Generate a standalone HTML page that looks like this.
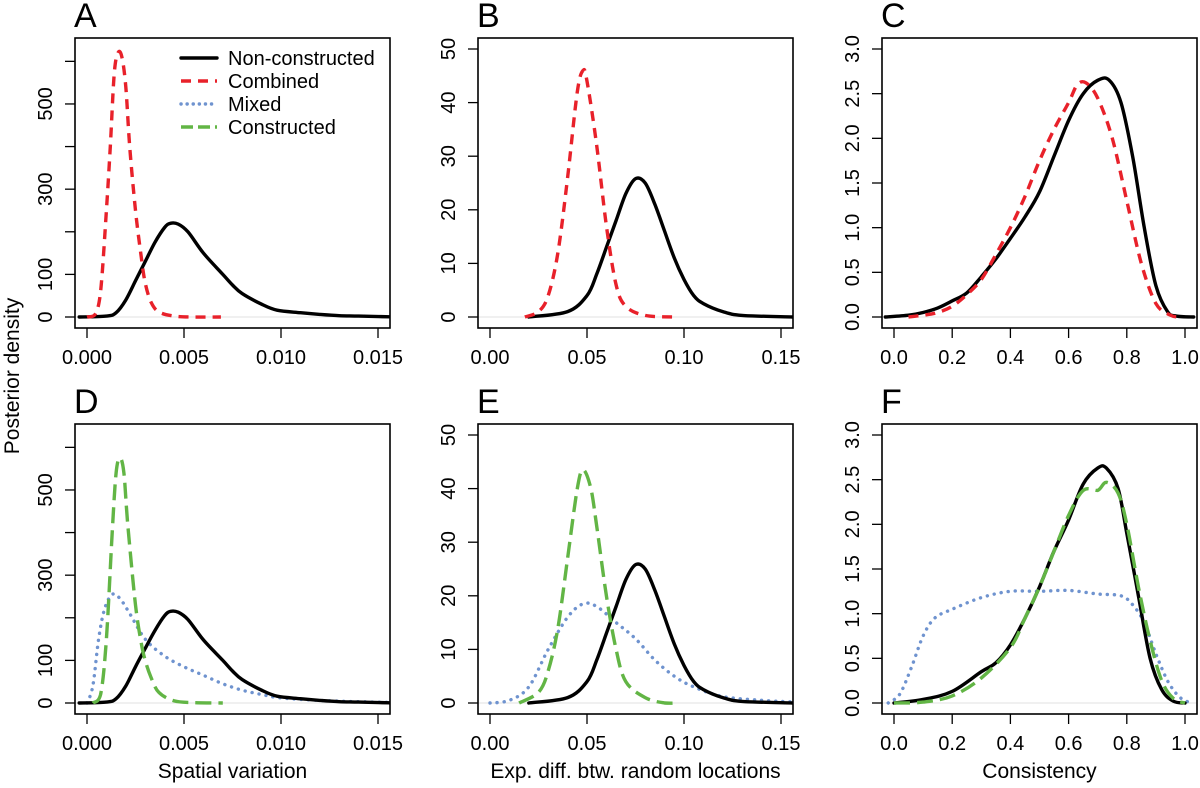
<!DOCTYPE html>
<html><head><meta charset="utf-8"><style>
body{margin:0;background:#fff;}
svg{display:block;font-family:"Liberation Sans",Arial,sans-serif;}
</style></head><body>
<svg id="s" width="1200" height="788" viewBox="0 0 1200 788">
<text x="19" y="376" font-size="21" text-anchor="middle" transform="rotate(-90 19 376)">Posterior density</text>
</svg>
<script>
// ---- data ----
const spatialBlack=[[-0.0004,0],[0.001,2],[0.0015,10],[0.002,40],[0.0025,85],[0.003,130],[0.0035,175],[0.004,210],[0.0043,220],[0.0047,218],[0.0052,200],[0.006,150],[0.007,100],[0.0075,75],[0.008,55],[0.009,30],[0.0098,16],[0.011,10],[0.012,6],[0.013,3],[0.014,2],[0.0162,0]];
const spatialRed=[[0,0],[0.0004,5],[0.0007,60],[0.001,250],[0.0012,400],[0.0014,570],[0.0016,620],[0.0018,610],[0.002,540],[0.0022,400],[0.0025,250],[0.0028,140],[0.003,80],[0.0033,35],[0.0037,12],[0.0045,2],[0.0055,0],[0.0069,0]];
const spatialBlack2=[[-0.0004,0],[0.001,2],[0.0015,10],[0.002,40],[0.0025,85],[0.003,128],[0.0035,170],[0.004,205],[0.0043,215],[0.0047,213],[0.0052,196],[0.006,148],[0.007,100],[0.0075,75],[0.008,55],[0.009,30],[0.0098,16],[0.011,10],[0.012,6],[0.013,3],[0.014,2],[0.0162,0]];
const spatialGreen=[[0.0003,0],[0.0007,20],[0.001,150],[0.0013,400],[0.0015,540],[0.0017,575],[0.0019,540],[0.0021,420],[0.0025,230],[0.0028,140],[0.003,100],[0.0033,60],[0.0037,25],[0.0045,5],[0.0055,1],[0.007,0]];
const spatialBlue=[[0,0],[0.0003,40],[0.0006,150],[0.0009,220],[0.0013,255],[0.0017,245],[0.0022,210],[0.003,150],[0.004,110],[0.005,85],[0.006,65],[0.007,45],[0.008,30],[0.009,20],[0.010,12],[0.012,6],[0.014,3],[0.0162,1]];
const expBlack=[[0.02,0],[0.04,1],[0.05,4],[0.055,8],[0.06,13],[0.065,18],[0.07,23],[0.075,25.8],[0.08,25],[0.085,21],[0.09,16],[0.095,11],[0.1,7],[0.105,4],[0.11,2.5],[0.12,1],[0.13,0.3],[0.156,0]];
const expRed=[[0.018,0],[0.025,1],[0.03,4],[0.035,12],[0.04,26],[0.045,42],[0.048,46],[0.05,44],[0.055,32],[0.06,17],[0.065,6],[0.07,2],[0.08,0.3],[0.095,0]];
const expGreen=[[0.015,0],[0.025,2],[0.03,6],[0.035,14],[0.04,27],[0.045,40],[0.048,43.5],[0.052,40],[0.055,33],[0.06,20],[0.065,10],[0.07,4],[0.08,1],[0.09,0],[0.097,0]];
const expBlue=[[0,0],[0.01,0.5],[0.02,3],[0.03,10],[0.04,16],[0.048,18.5],[0.055,18],[0.065,15],[0.075,12],[0.085,8],[0.095,5],[0.105,3],[0.12,1.2],[0.14,0.5],[0.156,0.2]];
const conBlack=[[-0.03,0],[0.05,0.02],[0.1,0.05],[0.15,0.1],[0.2,0.18],[0.25,0.27],[0.3,0.45],[0.35,0.65],[0.4,0.88],[0.45,1.12],[0.5,1.4],[0.55,1.8],[0.6,2.2],[0.65,2.5],[0.7,2.65],[0.74,2.65],[0.78,2.4],[0.82,1.8],[0.86,1.0],[0.9,0.35],[0.94,0.06],[0.97,0.01],[1.03,0]];
const conRed=[[0.05,0],[0.1,0.02],[0.15,0.05],[0.2,0.12],[0.25,0.25],[0.3,0.42],[0.35,0.7],[0.4,1.0],[0.45,1.35],[0.5,1.75],[0.55,2.1],[0.6,2.4],[0.63,2.6],[0.66,2.62],[0.7,2.45],[0.75,2.0],[0.8,1.3],[0.85,0.6],[0.9,0.15],[0.95,0.02],[0.98,0]];
const conBlack2=[[0,0],[0.1,0.04],[0.2,0.13],[0.3,0.35],[0.35,0.45],[0.4,0.65],[0.45,0.95],[0.5,1.3],[0.55,1.7],[0.6,2.05],[0.65,2.45],[0.7,2.63],[0.73,2.63],[0.77,2.4],[0.8,1.9],[0.84,1.2],[0.88,0.5],[0.92,0.15],[0.96,0.02],[1.0,0]];
const conGreen=[[0,0],[0.1,0.01],[0.2,0.08],[0.3,0.28],[0.4,0.62],[0.45,0.95],[0.5,1.3],[0.55,1.7],[0.6,2.1],[0.65,2.38],[0.7,2.38],[0.73,2.47],[0.77,2.35],[0.8,2.0],[0.84,1.3],[0.88,0.7],[0.92,0.25],[0.96,0.05],[1.0,0]];
const conBlue=[[-0.02,0],[0.02,0.1],[0.06,0.4],[0.1,0.75],[0.14,0.95],[0.2,1.05],[0.3,1.18],[0.4,1.25],[0.5,1.25],[0.6,1.26],[0.7,1.22],[0.78,1.2],[0.82,1.1],[0.86,0.9],[0.9,0.55],[0.94,0.25],[0.98,0.07],[1.02,0]];
const spatialXTicks=[0,0.005,0.010,0.015];
const spatialXLabels=["0.000","0.005","0.010","0.015"];
const spatialYTicks=[0,100,200,300,400,500,600];
const spatialYLabels=["0","100","","300","","500",""];
const expXTicks=[0,0.05,0.10,0.15];
const expXLabels=["0.00","0.05","0.10","0.15"];
const expYTicks=[0,10,20,30,40,50];
const expYLabels=["0","10","20","30","40","50"];
const conXTicks=[0,0.2,0.4,0.6,0.8,1.0];
const conXLabels=["0.0","0.2","0.4","0.6","0.8","1.0"];
const conYTicks=[0,0.5,1,1.5,2,2.5,3];
const conYLabels=["0.0","0.5","1.0","1.5","2.0","2.5","3.0"];
const legendLabels=["Non-constructed","Combined","Mixed","Constructed"];

const NS="http://www.w3.org/2000/svg";
const svg=document.getElementById('s');
function mk(tag,attrs,parent){const e=document.createElementNS(NS,tag);for(const k in attrs)e.setAttribute(k,attrs[k]);(parent||svg).appendChild(e);return e;}
const STY={
 black:{stroke:"#000",dash:"",cap:"round"},
 red:{stroke:"#e8212a",dash:"10 7",cap:"butt"},
 blue:{stroke:"#6f93cf",dash:"0.1 7",cap:"round"},
 green:{stroke:"#62b545",dash:"16 7",cap:"butt"}
};
function smooth(pts){
 let d='M'+pts[0][0].toFixed(1)+' '+pts[0][1].toFixed(1);
 for(let i=0;i<pts.length-1;i++){
  const p0=pts[i-1]||pts[i],p1=pts[i],p2=pts[i+1],p3=pts[i+2]||p2;
  let c1y=p1[1]+(p2[1]-p0[1])/6,c2y=p2[1]-(p3[1]-p1[1])/6;
  const base=Math.max(p1[1],p2[1]);
  c1y=Math.min(c1y,base+0.5);c2y=Math.min(c2y,base+0.5);
  d+=` C${(p1[0]+(p2[0]-p0[0])/6).toFixed(1)} ${c1y.toFixed(1)} ${(p2[0]-(p3[0]-p1[0])/6).toFixed(1)} ${c2y.toFixed(1)} ${p2[0].toFixed(1)} ${p2[1].toFixed(1)}`;
 }
 return d;
}
const W=315,H=290;
function panel(letter,bx,by,xmax,ymax,xt,xl,yt,yl,series,xtitle){
 const g=mk('g',{});
 
 
 const x0=bx+12,x1=bx+303;
 const sx=v=>x0+(x1-x0)*v/xmax;
 const sy=v=>by+279-(279-11)*v/ymax;
 const lt=mk('text',{x:bx-1,y:by-11,"font-size":34},g);lt.textContent=letter;
 
 
 const zl=mk('line',{x1:bx,x2:bx+W,y1:sy(0),y2:sy(0),stroke:"#d8d8d8","stroke-width":0.8},g);
 
 
 const clipId='c'+letter;
 const cp=mk('clipPath',{id:clipId},g);mk('rect',{x:bx,y:by,width:W,height:H},cp);
 series.forEach(([data,sty,nm])=>{
  const st=STY[sty];
  const d=smooth(data.map(p=>[sx(p[0]),sy(p[1])]));
  const p=mk('path',{d:d,fill:"none",stroke:st.stroke,"stroke-width":3.4,"stroke-dasharray":st.dash,"stroke-linecap":st.cap,"stroke-linejoin":"round","clip-path":`url(#${clipId})`},g);
  
  
 });
 const fr=mk('rect',{x:bx,y:by,width:W,height:H,fill:"none",stroke:"#000","stroke-width":1.6},g);
 
 
 xt.forEach((v,i)=>{
  mk('line',{x1:sx(v),x2:sx(v),y1:by+H,y2:by+H+10,stroke:"#000","stroke-width":1.3},g);
  const t=mk('text',{x:sx(v),y:by+H+36,"font-size":20,"text-anchor":"middle"},g);t.textContent=xl[i];
  
  
 });
 yt.forEach((v,i)=>{
  mk('line',{x1:bx,x2:bx-10,y1:sy(v),y2:sy(v),stroke:"#000","stroke-width":1.3},g);
  if(yl[i]){const tx=bx-23,ty=sy(v);const t=mk('text',{x:tx,y:ty,"font-size":20,"text-anchor":"middle",transform:`rotate(-90 ${tx} ${ty})`},g);t.textContent=yl[i];
  
  }
 });
 if(xtitle){const t=mk('text',{x:bx+W/2,y:by+H+64,"font-size":21,"text-anchor":"middle"},g);t.textContent=xtitle;
  
  }
 return g;
}
const cols=[75,478,882],rows=[38,424];
panel('A',cols[0],rows[0],0.015,629,spatialXTicks,spatialXLabels,spatialYTicks,spatialYLabels,[[spatialBlack,'black','non-constructed'],[spatialRed,'red','combined']]);
panel('B',cols[1],rows[0],0.15,50,expXTicks,expXLabels,expYTicks,expYLabels,[[expBlack,'black','non-constructed'],[expRed,'red','combined']]);
panel('C',cols[2],rows[0],1,3,conXTicks,conXLabels,conYTicks,conYLabels,[[conBlack,'black','non-constructed'],[conRed,'red','combined']]);
panel('D',cols[0],rows[1],0.015,629,spatialXTicks,spatialXLabels,spatialYTicks,spatialYLabels,[[spatialBlue,'blue','mixed'],[spatialBlack2,'black','non-constructed'],[spatialGreen,'green','constructed']],'Spatial variation');
panel('E',cols[1],rows[1],0.15,50,expXTicks,expXLabels,expYTicks,expYLabels,[[expBlue,'blue','mixed'],[expBlack,'black','non-constructed'],[expGreen,'green','constructed']],'Exp. diff. btw. random locations');
panel('F',cols[2],rows[1],1,3,conXTicks,conXLabels,conYTicks,conYLabels,[[conBlue,'blue','mixed'],[conBlack2,'black','non-constructed'],[conGreen,'green','constructed']],'Consistency');
// legend
const lg=mk('g',{});


['black','red','blue','green'].forEach((k,i)=>{
 const y=58+i*23;const st=STY[k];
 mk('line',{x1:181,x2:217,y1:y,y2:y,stroke:st.stroke,"stroke-width":3.4,"stroke-dasharray":k==='blue'?"0.1 6":(k==='red'?"10 7":(k==='green'?"12 5":"")),"stroke-linecap":st.cap},lg);
 const t=mk('text',{x:228,y:y+7,"font-size":20},lg);t.textContent=legendLabels[i];
 
 
});
</script>
</body></html>
